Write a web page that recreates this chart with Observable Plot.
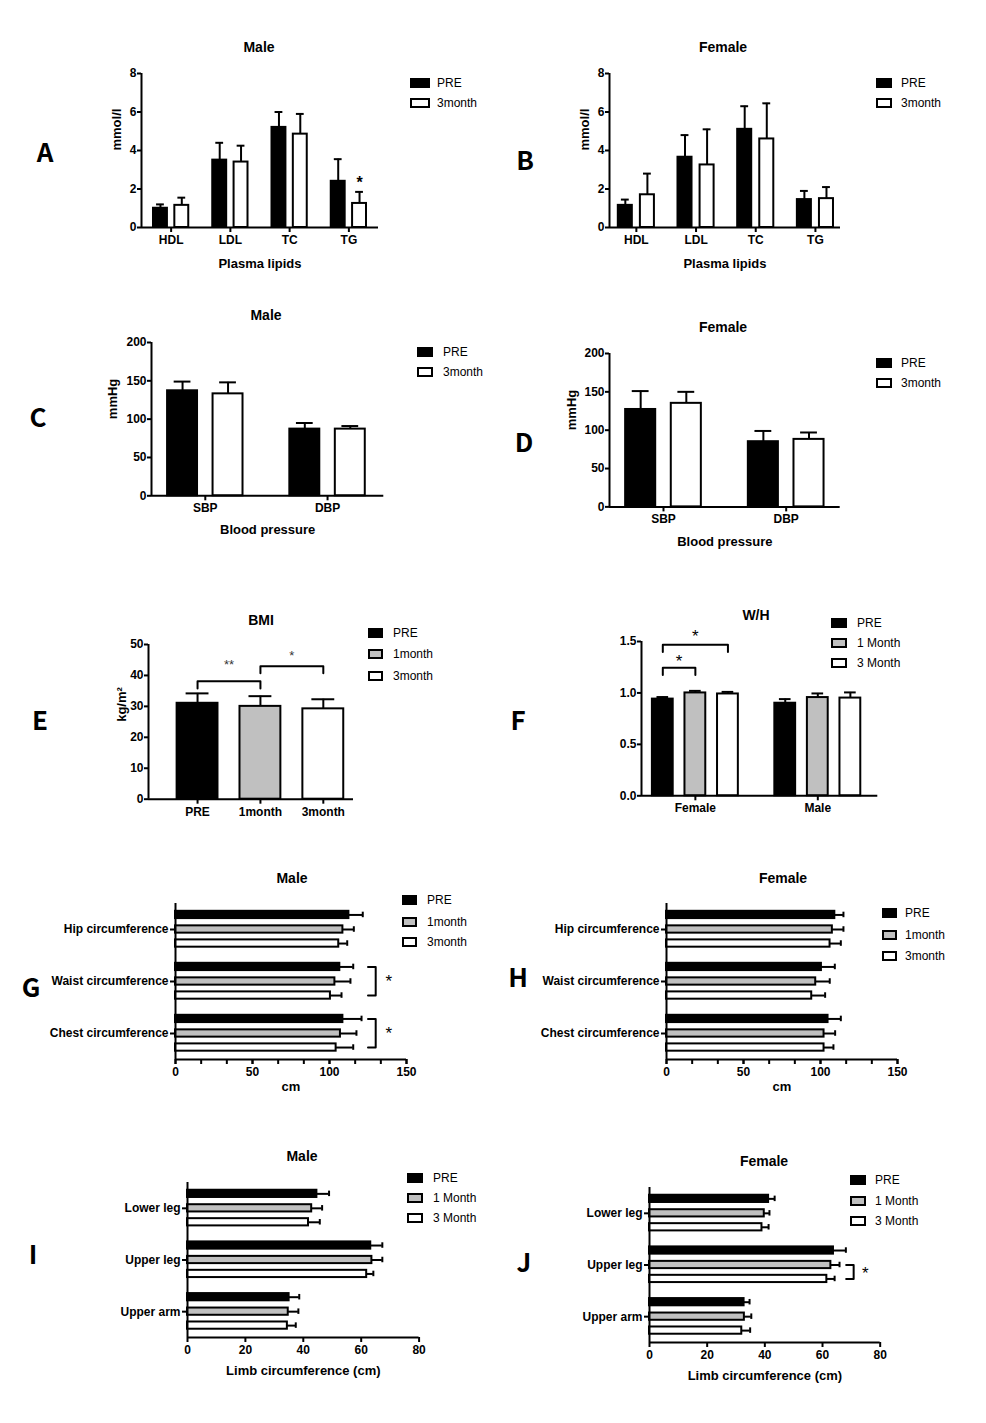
<!DOCTYPE html>
<html><head><meta charset="utf-8">
<script src="https://cdn.jsdelivr.net/npm/d3@7"></script>
<script src="https://cdn.jsdelivr.net/npm/@observablehq/plot@0.6"></script>
<style>
body{margin:0;background:#fff;}
#fig{position:relative;width:986px;height:1423px;font-family:"Liberation Sans",Arial,sans-serif;color:#000;overflow:hidden;}
.abs{position:absolute;white-space:nowrap;}
.title{font-weight:bold;font-size:14px;transform:translate(-50%,-50%);}
.letter{font-family:"Noto Sans CJK SC","Noto Sans",sans-serif;font-weight:bold;font-size:26px;transform:translate(-50%,-50%);}
.lg{font-size:12px;transform:translateY(-50%);}
.sw{position:absolute;height:6px;border:2px solid #000;transform:translateY(-50%);}
svg{overflow:visible;}
</style></head><body><div id="fig"></div>
<script>
// ---------------- DATA ----------------
const lipidCats = ["HDL", "LDL", "TC", "TG"];
const lipidSeries = ["PRE", "3month"];
const lipidMaleMean = [[1.0, 3.5, 5.2, 2.4], [1.15, 3.4, 4.85, 1.25]];
const lipidMaleSD   = [[0.2, 0.9, 0.8, 1.15], [0.4, 0.85, 1.05, 0.6]];
const lipidFemaleMean = [[1.15, 3.65, 5.1, 1.45], [1.7, 3.25, 4.6, 1.5]];
const lipidFemaleSD   = [[0.3, 1.15, 1.2, 0.45], [1.1, 1.85, 1.85, 0.6]];
const lipidMaleSig = [{cat: "TG", series: "3month", label: "*"}];

const bpCats = ["SBP", "DBP"];
const bpSeries = ["PRE", "3month"];
const bpMaleMean = [[137, 87], [133, 87]];
const bpMaleSD   = [[12, 8], [15, 4]];
const bpFemaleMean = [[127, 85], [135, 88]];
const bpFemaleSD   = [[24, 14], [15, 9]];

const bmiCats = ["PRE", "1month", "3month"];
const bmiMean = [31, 30, 29.2];
const bmiSD   = [3.2, 3.3, 3.1];
const bmiSig = [{from: "PRE", to: "1month", label: "**"}, {from: "1month", to: "3month", label: "*"}];

const whCats = ["Female", "Male"];
const whSeries = ["PRE", "1 Month", "3 Month"];
const whMean = [[0.94, 0.90], [1.0, 0.955], [0.99, 0.95]];
const whSD   = [[0.02, 0.04], [0.02, 0.04], [0.02, 0.055]];
const whSig = [{cat: "Female", from: "PRE", to: "1 Month", label: "*"}, {cat: "Female", from: "PRE", to: "3 Month", label: "*"}];

const bodyCats = ["Hip circumference", "Waist circumference", "Chest circumference"];
const bodySeries = ["PRE", "1month", "3month"];
const bodyMaleMean = [[112.6, 106.7, 108.7], [108.7, 103.5, 107.1], [106, 100.6, 104.3]];
const bodyMaleSD   = [[9, 8.7, 12.1], [7.1, 10.1, 10.4], [5.5, 7.2, 11.1]];
const bodyFemaleMean = [[109.3, 100.6, 104.9], [107.7, 96.9, 102.3], [106.2, 94.3, 102.3]];
const bodyFemaleSD   = [[5.6, 8.7, 8.3], [7.2, 9.1, 7.2], [7, 8.7, 6.1]];
const bodyMaleSig = [{cat: "Waist circumference", from: "PRE", to: "3month", label: "*"}, {cat: "Chest circumference", from: "PRE", to: "3month", label: "*"}];

const limbCats = ["Lower leg", "Upper leg", "Upper arm"];
const limbSeries = ["PRE", "1 Month", "3 Month"];
const limbMaleMean = [[44.7, 63.3, 35.1], [42.9, 63.7, 34.8], [41.8, 61.9, 34.5]];
const limbMaleSD   = [[4.2, 4.0, 3.5], [3.6, 3.6, 3.5], [3.9, 2.3, 2.9]];
const limbFemaleMean = [[41.3, 63.8, 32.8], [39.8, 62.9, 32.9], [39.0, 61.5, 32.0]];
const limbFemaleSD   = [[2.1, 4.3, 1.9], [1.8, 3.0, 2.4], [2.3, 2.7, 2.9]];
const limbFemaleSig = [{cat: "Upper leg", from: "1 Month", to: "3 Month", label: "*"}];

// ---------------- HELPERS ----------------
const FILL2 = ["#000000", "#ffffff"];
const FILL3 = ["#000000", "#c0c0c0", "#ffffff"];
const FONT = '"Liberation Sans", Arial, sans-serif';
const fig = document.getElementById("fig");

function rowsOf(cats, series, mean, sd) {
  const rows = [];
  cats.forEach((c, i) => series.forEach((s, j) => rows.push({cat: c, i, s, j, v: mean[j][i], e: mean[j][i] + sd[j][i]})));
  return rows;
}
function place(node, left, top) {
  node.style.position = "absolute";
  node.style.left = left + "px";
  node.style.top = top + "px";
  fig.appendChild(node);
}
function html(cls, text, x, y) {
  const d = document.createElement("div");
  d.className = "abs " + cls;
  d.textContent = text;
  d.style.left = x + "px"; d.style.top = y + "px";
  fig.appendChild(d);
}
function legend(series, fills, sx, sw, tx, ys) {
  series.forEach((s, j) => {
    const b = document.createElement("div");
    b.className = "sw";
    b.style.left = sx + "px"; b.style.top = ys[j] + "px";
    b.style.width = (sw - 4) + "px"; b.style.background = fills[j];
    fig.appendChild(b);
    html("lg", s, tx, ys[j]);
  });
}
const K = {stroke: "#000", strokeWidth: 2};

function vPanel(o) {
  const ml = 70, mr = 20, mt = 30, mb = 60;
  const pos = d => d.i + o.offs[d.j];
  const capW = o.bw * 0.28;
  const marks = [
    Plot.ruleX(o.rows, {x: pos, y1: "v", y2: "e", ...K}),
    Plot.ruleY(o.rows, {y: "e", x1: d => pos(d) - capW, x2: d => pos(d) + capW, ...K}),
    Plot.rect(o.rows, {x1: d => pos(d) - o.bw / 2, x2: d => pos(d) + o.bw / 2, y1: 0, y2: "v", fill: d => o.fills[d.j], ...K}),
    Plot.ruleX([o.xdom[0]], K),
    Plot.ruleY([0], K),
    Plot.axisY({ticks: o.yticks, tickFormat: o.yfmt || (d => d), tickSize: 4, tickPadding: 1, fontSize: 12, fontWeight: "bold", strokeWidth: 2, label: null}),
    Plot.axisX({ticks: o.cats.map((_, i) => i), tickFormat: i => o.cats[i], tickSize: 5, tickPadding: 3, fontSize: 12, fontWeight: "bold", strokeWidth: 2, label: null})
  ];
  if (o.ylabel) marks.push(Plot.text([o.ylabel], {text: d => d, frameAnchor: "left", dx: o.ylabelDx, rotate: -90, fontSize: 13, fontWeight: "bold"}));
  if (o.xlabel) marks.push(Plot.text([o.xlabel], {text: d => d, frameAnchor: "bottom", dy: o.xlabelDy, fontSize: 13, fontWeight: "bold"}));
  if (o.extra) marks.push(...o.extra(pos));
  const p = Plot.plot({
    width: o.fx1 - o.fx0 + ml + mr, height: o.fy1 - o.fy0 + mt + mb,
    marginLeft: ml, marginRight: mr, marginTop: mt, marginBottom: mb,
    x: {domain: o.xdom}, y: {domain: o.ydom},
    style: {fontFamily: FONT, fontSize: "12px", color: "#000", background: "transparent", overflow: "visible"},
    marks
  });
  place(p, o.fx0 - ml, o.fy0 - mt);
}

function hPanel(o) {
  const ml = o.ml, mr = 20, mt = 20, mb = 55;
  const pos = d => d.i + o.offs[d.j];
  const capH = o.bh * 0.38;
  const marks = [
    Plot.ruleY(o.rows, {y: pos, x1: "v", x2: "e", ...K}),
    Plot.ruleX(o.rows, {x: "e", y1: d => pos(d) - capH, y2: d => pos(d) + capH, ...K}),
    Plot.rect(o.rows, {y1: d => pos(d) - o.bh / 2, y2: d => pos(d) + o.bh / 2, x1: 0, x2: "v", fill: d => o.fills[d.j], ...K}),
    Plot.ruleX([0], K),
    Plot.ruleY([2.5], K),
    Plot.axisX({ticks: o.xticks, tickSize: 5, tickPadding: 3, fontSize: 12, fontWeight: "bold", strokeWidth: 2, label: null}),
    Plot.axisY({ticks: o.cats.map((_, i) => i), tickFormat: i => o.cats[i], tickSize: 5, tickPadding: 2, fontSize: 12, fontWeight: "bold", strokeWidth: 2, label: null})
  ];
  if (o.minor) marks.push(Plot.axisX({ticks: o.minor, tickFormat: () => "", tickSize: 5, strokeWidth: 2, label: null}));
  if (o.xlabel) marks.push(Plot.text([o.xlabel], {text: d => d, frameAnchor: "bottom", dy: o.xlabelDy, fontSize: 13, fontWeight: "bold"}));
  if (o.extra) marks.push(...o.extra(pos));
  const p = Plot.plot({
    width: o.fx1 - o.fx0 + ml + mr, height: o.fy1 - o.fy0 + mt + mb,
    marginLeft: ml, marginRight: mr, marginTop: mt, marginBottom: mb,
    x: {domain: o.xdom}, y: {domain: [-0.5, 2.5], reverse: true},
    style: {fontFamily: FONT, fontSize: "12px", color: "#000", background: "transparent", overflow: "visible"},
    marks
  });
  place(p, o.fx0 - ml, o.fy0 - mt);
}

// ---------------- PANELS ----------------
// A
{
  const rows = rowsOf(lipidCats, lipidSeries, lipidMaleMean, lipidMaleSD);
  vPanel({fx0: 141, fx1: 378, fy0: 72.7, fy1: 226.7, xdom: [-0.5, 3.5], cats: lipidCats, rows,
    offs: [-0.18, 0.18], bw: 0.235, fills: FILL2, ydom: [0, 8], yticks: [0, 2, 4, 6, 8],
    ylabel: "mmol/l", ylabelDx: -25, xlabel: "Plasma lipids", xlabelDy: 40,
    extra: pos => {
      const sr = rows.filter(r => lipidMaleSig.some(s => s.cat === r.cat && s.series === r.s));
      return [Plot.text(sr, {x: pos, y: "e", text: () => "*", dy: -9, fontSize: 16, fontWeight: "bold"})];
    }});
  html("title", "Male", 259, 47);
  legend(lipidSeries, FILL2, 410, 20, 437, [82.7, 102.7]);
  html("letter", "A", 45, 150);
}
// B
{
  const rows = rowsOf(lipidCats, lipidSeries, lipidFemaleMean, lipidFemaleSD);
  vPanel({fx0: 609, fx1: 840, fy0: 72.7, fy1: 226.7, xdom: [-0.45, 3.42], cats: lipidCats, rows,
    offs: [-0.185, 0.185], bw: 0.235, fills: FILL2, ydom: [0, 8], yticks: [0, 2, 4, 6, 8],
    ylabel: "mmol/l", ylabelDx: -25, xlabel: "Plasma lipids", xlabelDy: 40});
  html("title", "Female", 723, 47);
  legend(lipidSeries, FILL2, 876, 16, 901, [83, 103]);
  html("letter", "B", 525, 158);
}
// C
{
  const rows = rowsOf(bpCats, bpSeries, bpMaleMean, bpMaleSD);
  vPanel({fx0: 150.7, fx1: 383, fy0: 341.7, fy1: 495, xdom: [-0.44, 1.46], cats: bpCats, rows,
    offs: [-0.186, 0.186], bw: 0.245, fills: FILL2, ydom: [0, 200], yticks: [0, 50, 100, 150, 200],
    ylabel: "mmHg", ylabelDx: -39, xlabel: "Blood pressure", xlabelDy: 38});
  html("title", "Male", 266, 315);
  legend(bpSeries, FILL2, 417, 16, 443, [351.7, 371.7]);
  html("letter", "C", 38, 415);
}
// D
{
  const rows = rowsOf(bpCats, bpSeries, bpFemaleMean, bpFemaleSD);
  vPanel({fx0: 609.3, fx1: 840, fy0: 353.3, fy1: 506.7, xdom: [-0.44, 1.44], cats: bpCats, rows,
    offs: [-0.186, 0.186], bw: 0.245, fills: FILL2, ydom: [0, 200], yticks: [0, 50, 100, 150, 200],
    ylabel: "mmHg", ylabelDx: -38, xlabel: "Blood pressure", xlabelDy: 39});
  html("title", "Female", 723, 327);
  legend(bpSeries, FILL2, 876, 16, 901, [363, 383]);
  html("letter", "D", 524, 440);
}
// E
{
  const rows = bmiCats.map((c, i) => ({cat: c, i, s: c, j: i, v: bmiMean[i], e: bmiMean[i] + bmiSD[i]}));
  vPanel({fx0: 148, fx1: 353, fy0: 644.3, fy1: 799, xdom: [-0.78, 2.48], cats: bmiCats, rows,
    offs: [0, 0, 0], bw: 0.65, fills: FILL3, ydom: [0, 50], yticks: [0, 10, 20, 30, 40, 50],
    ylabel: "kg/m²", ylabelDx: -27,
    extra: pos => {
      const levels = [38.1, 43], leg = 2.3, dys = [-16, -10];
      const pts = [], labels = [];
      bmiSig.forEach((s, k) => {
        const a = rows.find(r => r.s === s.from), b = rows.find(r => r.s === s.to);
        const h = levels[k];
        pts.push({x: pos(a), y: h - leg, k}, {x: pos(a), y: h, k}, {x: pos(b), y: h, k}, {x: pos(b), y: h - leg, k});
        labels.push({x: (pos(a) + pos(b)) / 2, y: h, label: s.label, dy: dys[k]});
      });
      return [Plot.line(pts, {x: "x", y: "y", z: "k", ...K}),
        ...labels.map(l => Plot.text([l], {x: "x", y: "y", text: "label", dy: l.dy, fontSize: 13, fill: "#333"}))];
    }});
  html("title", "BMI", 261, 620);
  legend(bmiCats, FILL3, 368, 15, 393, [633, 654, 676]);
  html("letter", "E", 40, 718);
}
// F
{
  const rows = rowsOf(whCats, whSeries, whMean, whSD);
  vPanel({fx0: 640.7, fx1: 877, fy0: 640.7, fy1: 795, xdom: [-0.44, 1.49], cats: whCats, rows,
    offs: [-0.266, 0, 0.266], bw: 0.17, fills: FILL3, ydom: [0, 1.5], yticks: [0, 0.5, 1, 1.5], yfmt: d3.format(".1f"),
    extra: pos => {
      const levels = [1.244, 1.468], leg = 0.07, dys = [-6, -8];
      const pts = [], labels = [];
      whSig.forEach((s, k) => {
        const a = rows.find(r => r.s === s.from && r.cat === s.cat), b = rows.find(r => r.s === s.to && r.cat === s.cat);
        const h = levels[k];
        pts.push({x: pos(a), y: h - leg, k}, {x: pos(a), y: h, k}, {x: pos(b), y: h, k}, {x: pos(b), y: h - leg, k});
        labels.push({x: (pos(a) + pos(b)) / 2, y: h, label: s.label, dy: dys[k]});
      });
      return [Plot.line(pts, {x: "x", y: "y", z: "k", ...K}),
        ...labels.map(l => Plot.text([l], {x: "x", y: "y", text: "label", dy: l.dy, fontSize: 17}))];
    }});
  html("title", "W/H", 756, 615);
  legend(whSeries, FILL3, 831, 16, 857, [623, 643, 663]);
  html("letter", "F", 518, 718);
}
// G
{
  const rows = rowsOf(bodyCats, bodySeries, bodyMaleMean, bodyMaleSD);
  hPanel({ml: 160, fx0: 175, fx1: 406, fy0: 903, fy1: 1059, xdom: [0, 150], xticks: [0, 50, 100, 150],
    minor: d3.range(0, 151, 50 / 3), cats: bodyCats, rows, offs: [-0.28, 0, 0.27], bh: 0.14, fills: FILL3,
    xlabel: "cm", xlabelDy: 31,
    extra: pos => {
      const bx = 130, tick = 5, pts = [], labels = [];
      bodyMaleSig.forEach((s, k) => {
        const a = rows.find(r => r.s === s.from && r.cat === s.cat), b = rows.find(r => r.s === s.to && r.cat === s.cat);
        pts.push({x: bx - tick, y: pos(a), k}, {x: bx, y: pos(a), k}, {x: bx, y: pos(b), k}, {x: bx - tick, y: pos(b), k});
        labels.push({x: bx + 8.5, y: (pos(a) + pos(b)) / 2, label: s.label});
      });
      return [Plot.line(pts, {x: "x", y: "y", z: "k", ...K}),
        Plot.text(labels, {x: "x", y: "y", text: "label", dy: 0, fontSize: 17})];
    }});
  html("title", "Male", 292, 878);
  legend(bodySeries, FILL3, 402, 15, 427, [900, 922, 942]);
  html("letter", "G", 31, 985);
}
// H
{
  const rows = rowsOf(bodyCats, bodySeries, bodyFemaleMean, bodyFemaleSD);
  hPanel({ml: 160, fx0: 666, fx1: 897, fy0: 903, fy1: 1059, xdom: [0, 150], xticks: [0, 50, 100, 150],
    minor: d3.range(0, 151, 50 / 3), cats: bodyCats, rows, offs: [-0.28, 0, 0.27], bh: 0.14, fills: FILL3,
    xlabel: "cm", xlabelDy: 31});
  html("title", "Female", 783, 878);
  legend(bodySeries, FILL3, 882, 15, 905, [913, 935, 956]);
  html("letter", "H", 518, 975);
}
// I
{
  const rows = rowsOf(limbCats, limbSeries, limbMaleMean, limbMaleSD);
  hPanel({ml: 100, fx0: 186.7, fx1: 418.3, fy0: 1181.7, fy1: 1336.7, xdom: [0, 80], xticks: [0, 20, 40, 60, 80],
    cats: limbCats, rows, offs: [-0.28, 0, 0.27], bh: 0.14, fills: FILL3,
    xlabel: "Limb circumference (cm)", xlabelDy: 38});
  html("title", "Male", 302, 1156);
  legend(limbSeries, FILL3, 407, 16, 433, [1178, 1198, 1218]);
  html("letter", "I", 33, 1252);
}
// J
{
  const rows = rowsOf(limbCats, limbSeries, limbFemaleMean, limbFemaleSD);
  hPanel({ml: 100, fx0: 649.3, fx1: 880, fy0: 1186.7, fy1: 1341.7, xdom: [0, 80], xticks: [0, 20, 40, 60, 80],
    cats: limbCats, rows, offs: [-0.28, 0, 0.27], bh: 0.14, fills: FILL3,
    xlabel: "Limb circumference (cm)", xlabelDy: 38,
    extra: pos => {
      const bx = 70.8, tick = 2.6, pts = [], labels = [];
      limbFemaleSig.forEach((s, k) => {
        const a = rows.find(r => r.s === s.from && r.cat === s.cat), b = rows.find(r => r.s === s.to && r.cat === s.cat);
        pts.push({x: bx - tick, y: pos(a), k}, {x: bx, y: pos(a), k}, {x: bx, y: pos(b), k}, {x: bx - tick, y: pos(b), k});
        labels.push({x: bx + 4, y: (pos(a) + pos(b)) / 2, label: s.label});
      });
      return [Plot.line(pts, {x: "x", y: "y", z: "k", ...K}),
        Plot.text(labels, {x: "x", y: "y", text: "label", dy: 2, fontSize: 17})];
    }});
  html("title", "Female", 764, 1161);
  legend(limbSeries, FILL3, 850, 16, 875, [1180, 1201, 1221]);
  html("letter", "J", 524, 1260);
}
</script></body></html>
